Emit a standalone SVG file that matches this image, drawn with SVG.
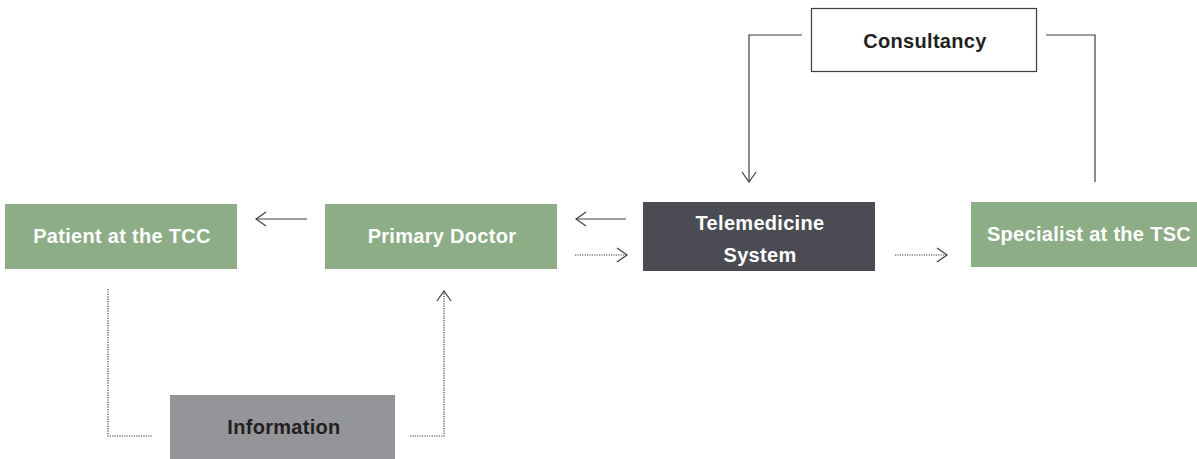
<svg xmlns="http://www.w3.org/2000/svg" width="1197" height="459" viewBox="0 0 1197 459">
<defs>
<style>
.lbl{font-family:"Liberation Sans",Arial,sans-serif;font-weight:bold;font-size:20px;letter-spacing:0.3px;text-anchor:middle}
.w{fill:#ffffff}
.d{fill:#231f20}
.green{fill:#8cad85}
.ln{fill:none;stroke:#3d3e45;stroke-width:1.2}
.dot{fill:none;stroke:#3d3e45;stroke-width:1.2;stroke-dasharray:1.2 1.2}
</style>
<marker id="ah" viewBox="0 0 12 16" refX="11" refY="8" markerWidth="12" markerHeight="16" markerUnits="userSpaceOnUse" orient="auto">
<path d="M1 1 L11 8 L1 15" fill="none" stroke="#3d3e45" stroke-width="1.2"/>
</marker>
</defs>
<rect width="1197" height="459" fill="#ffffff"/>
<g id="patient">
<rect x="5" y="204" width="232" height="65" class="green"/>
<text x="122" y="243" class="lbl w">Patient at the TCC</text>
</g>
<g id="primary">
<rect x="325" y="204" width="232" height="65" class="green"/>
<text x="442" y="243" class="lbl w">Primary Doctor</text>
</g>
<g id="telemedicine">
<rect x="643" y="202" width="232" height="69" fill="#4a4b53"/>
<text x="760" y="230" class="lbl w">Telemedicine</text>
<text x="760" y="262" class="lbl w">System</text>
</g>
<g id="specialist">
<rect x="971" y="202" width="232" height="65" class="green"/>
<text x="1089" y="241" class="lbl w">Specialist at the TSC</text>
</g>
<g id="consultancy">
<rect x="811.5" y="8.5" width="225" height="63" fill="#ffffff" stroke="#3d3e45" stroke-width="1.2"/>
<text x="925" y="48" class="lbl d">Consultancy</text>
</g>
<g id="information">
<rect x="170" y="395" width="225" height="64" fill="#939598"/>
<text x="284" y="434" class="lbl d">Information</text>
</g>
<g id="connectors">
<path d="M307 219 H256" class="ln" marker-end="url(#ah)"/>
<path d="M626 219 H576" class="ln" marker-end="url(#ah)"/>
<path d="M575 255 H627" class="dot" marker-end="url(#ah)"/>
<path d="M895 255 H947" class="dot" marker-end="url(#ah)"/>
<path d="M802 35 H749 V182" class="ln" marker-end="url(#ah)"/>
<path d="M1046 35 H1095 V182" class="ln"/>
<path d="M108 289 V436 H153" class="dot"/>
<path d="M410 436 H444 V291" class="dot" marker-end="url(#ah)"/>
</g>
</svg>
